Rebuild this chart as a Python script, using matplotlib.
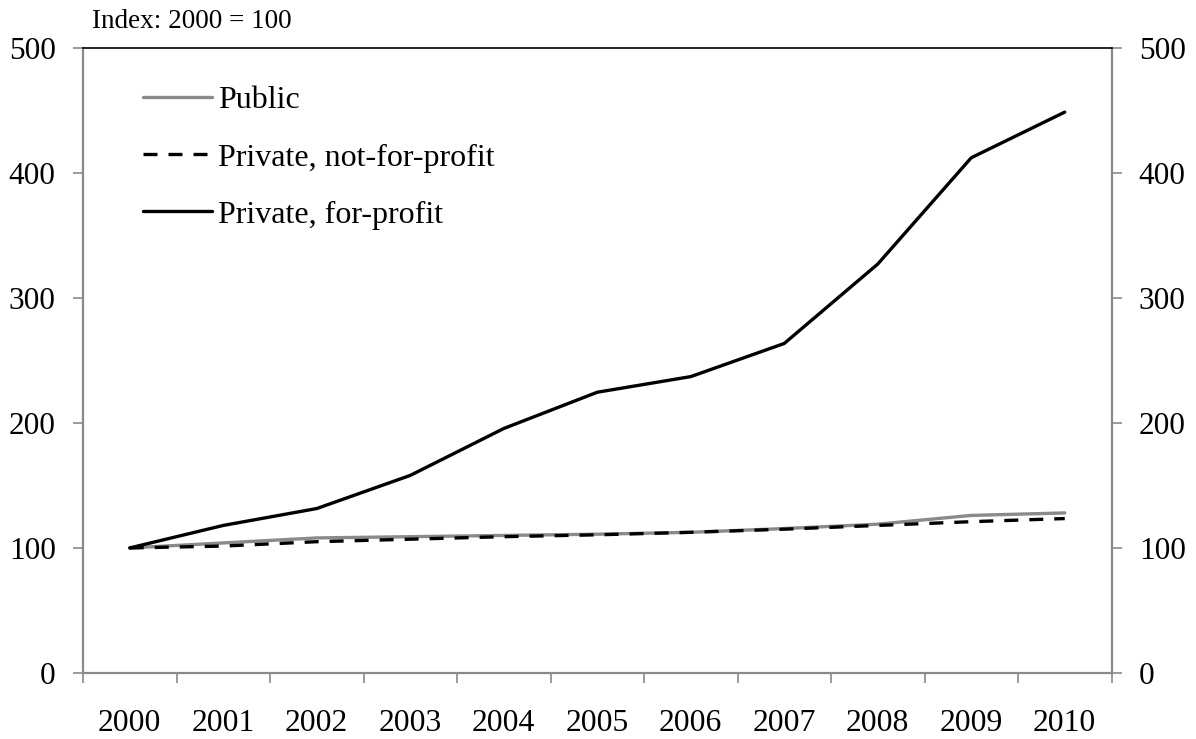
import matplotlib
matplotlib.use("Agg")
import matplotlib.pyplot as plt
from matplotlib.ticker import FixedLocator, NullFormatter

years = ["2000", "2001", "2002", "2003", "2004", "2005", "2006", "2007", "2008", "2009", "2010"]
public = [100, 104, 108, 109, 110, 111, 112.5, 115.5, 119, 126, 128]
private_nfp = [100, 101.5, 105, 107, 109, 110.5, 112.5, 115, 118, 121, 123.5]
private_fp = [100, 118, 131.5, 158, 195.5, 224.5, 237, 263.5, 327, 412, 448.5]
yticks = [0, 100, 200, 300, 400, 500]

plt.rcParams['font.family'] = ['Liberation Serif', 'DejaVu Serif']

fig = plt.figure(figsize=(11.96, 7.39), dpi=100)
ax = fig.add_axes([83/1196, 1-673/739, (1111.5-83)/1196, (673-47.7)/739])

x = list(range(len(years)))
grey = '#8a8a8a'
ax.plot(x, public, color=grey, lw=2.4, label='Public', solid_capstyle='round')
ax.plot(x, private_nfp, color='black', lw=2.4, ls=(0, (4.2, 3.3)), label='Private, not-for-profit')
ax.plot(x, private_fp, color='black', lw=2.4, label='Private, for-profit', solid_capstyle='round')

ax.set_xlim(-0.5, len(years) - 0.5)
ax.set_ylim(0, 500)
ax.set_yticks(yticks)
ax.set_yticklabels([str(v) for v in yticks])

ax.xaxis.set_major_locator(FixedLocator([i - 0.5 for i in range(len(years) + 1)]))
ax.xaxis.set_major_formatter(NullFormatter())
ax.xaxis.set_minor_locator(FixedLocator(x))
ax.set_xticklabels(years, minor=True)
ax.tick_params(axis='x', which='major', direction='out', length=7, width=1.2, color=grey)
ax.tick_params(axis='x', which='minor', length=0, pad=26, labelsize=22.8)
ax.tick_params(axis='y', which='major', direction='out', length=7.2, width=1.2, color=grey,
               left=True, right=True, labelleft=True, labelright=True, pad=12.5, labelsize=22.5)

for s in ['left', 'right', 'bottom']:
    ax.spines[s].set_color(grey)
    ax.spines[s].set_linewidth(1.6)
ax.spines['top'].set_color('black')
ax.spines['top'].set_linewidth(1.2)

leg = ax.legend(loc='upper left', bbox_to_anchor=((143-83)/1028.5, (673-86)/625.3),
                frameon=False, fontsize=23, handlelength=2.15, handletextpad=0.2,
                labelspacing=0.87, borderpad=0, borderaxespad=0)

fig.text(92/1196, 1-22/739, 'Index: 2000 = 100', fontsize=19.5, va='center', ha='left')

fig.savefig('out.png', dpi=100)
